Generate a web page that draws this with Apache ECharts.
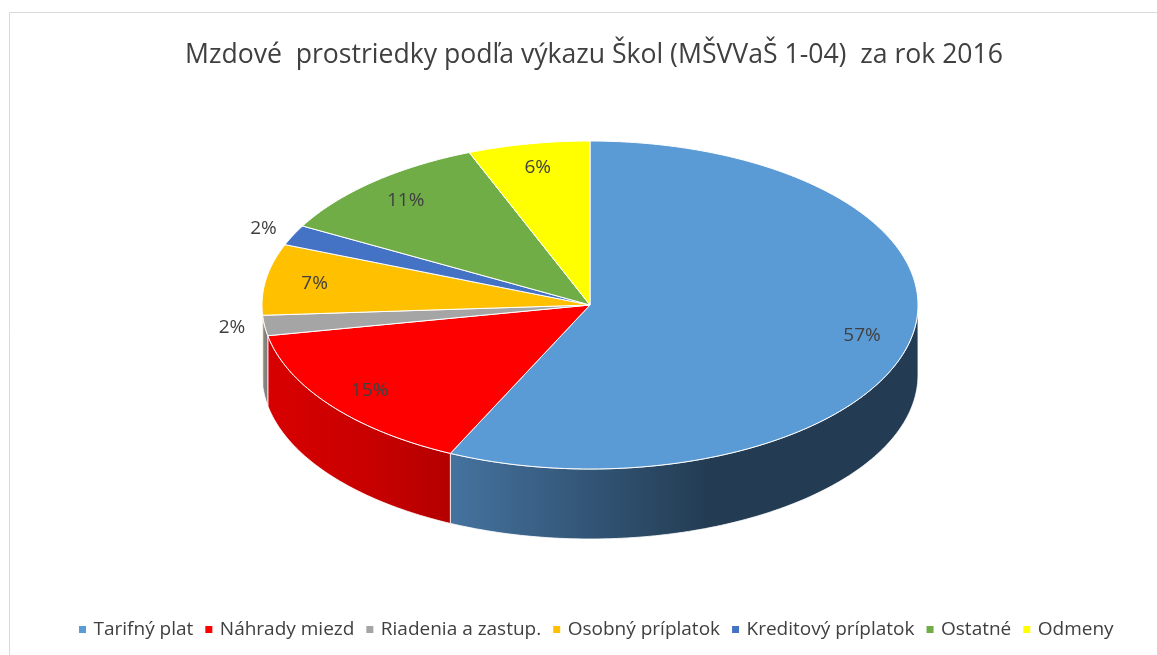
<!DOCTYPE html>
<html>
<head>
<meta charset="utf-8">
<script src="https://cdn.jsdelivr.net/npm/echarts@6/dist/echarts.min.js"></script>
<style>
  html, body { margin: 0; padding: 0; background: #fff; }
  #chart { width: 1157px; height: 655px; }
</style>
</head>
<body>
<div id="chart"></div>
<script>
// data
const categories = ["Tarifný plat", "Náhrady miezd", "Riadenia a zastup.", "Osobný príplatok", "Kreditový príplatok", "Ostatné", "Odmeny"];
const values = [57, 15, 2, 7, 2, 11, 6];

const colors = ["#5B9BD5", "#FF0000", "#A5A5A5", "#FFC000", "#4472C4", "#70AD47", "#FFFF00"];
// side (wall) gradient: [left, middle, right]
const sideColors = [
  ["#45739f", "#233c53", "#233c53"],
  ["#d80000", "#c80000", "#b40000"],
  ["#8c8c8c", "#828282", "#7a7a7a"],
  ["#c99700", "#b88a00", "#a98000"],
  ["#34599a", "#2f528c", "#2a4a80"],
  ["#558a35", "#4e8031", "#48752c"],
  ["#cccc00", "#bebe00", "#b0b000"]
];

const FONT = "'Open Sans', 'Noto Sans', sans-serif";
const TXT = "#404040";

// pie geometry (pixels)
const CX = 590, CY = 305, RX = 328, RY = 164, DEPTH = 70;

const total = values.reduce((a, b) => a + b, 0);
const starts = [];
let acc = 0;
values.forEach(v => { starts.push(acc); acc += v; });

function pt(t, dy) {
  return [CX + RX * Math.sin(t), CY - RY * Math.cos(t) + (dy || 0)];
}
function arc(t0, t1, dy) {
  const n = Math.max(2, Math.ceil((t1 - t0) / (Math.PI / 180)));
  const out = [];
  for (let k = 0; k <= n; k++) out.push(pt(t0 + (t1 - t0) * k / n, dy));
  return out;
}

function makeRender(i) {
  return function (params, api) {
    const v = api.value(0);
    const t0 = starts[i] / total * Math.PI * 2;
    const t1 = (starts[i] + v) / total * Math.PI * 2;
    const children = [];

    // outer wall, only the front half is seen
    const a = Math.max(t0, Math.PI / 2), b = Math.min(t1, Math.PI * 1.5);
    if (b > a) {
      const top = arc(a, b, 0);
      const bottom = arc(a, b, DEPTH).reverse();
      children.push({
        type: 'polygon',
        z2: 1,
        shape: { points: top.concat(bottom) },
        style: {
          fill: new echarts.graphic.LinearGradient(0, 0, 1, 0, [
            { offset: 0, color: sideColors[i][0] },
            { offset: 0.55, color: sideColors[i][1] },
            { offset: 1, color: sideColors[i][2] }
          ]),
          stroke: 'rgba(255,255,255,0.8)',
          lineWidth: 1
        }
      });
    }

    // top face
    children.push({
      type: 'polygon',
      z2: 5,
      shape: { points: [[CX, CY]].concat(arc(t0, t1, 0)) },
      style: { fill: colors[i], stroke: '#fff', lineWidth: 1 }
    });

    // label
    const mid = (t0 + t1) / 2;
    const f = v / total < 0.05 ? 1.1 : 0.85;
    children.push({
      type: 'text',
      z2: 10,
      x: CX + RX * f * Math.sin(mid),
      y: CY - RY * f * Math.cos(mid),
      style: {
        text: Math.round(v / total * 100) + '%',
        fontSize: 19,
        fontFamily: FONT,
        fill: TXT,
        align: 'center',
        verticalAlign: 'middle'
      }
    });

    return { type: 'group', children: children };
  };
}

const chart = echarts.init(document.getElementById('chart'));
chart.setOption({
  animation: false,
  title: {
    text: 'Mzdové  prostriedky podľa výkazu Škol (MŠVVaŠ 1-04)  za rok 2016',
    left: 180,
    top: 37,
    textStyle: { fontFamily: FONT, fontSize: 26.6, fontWeight: 'normal', color: TXT }
  },
  legend: {
    data: categories,
    bottom: 11,
    left: 74,
    icon: 'path://M0,0h7v7h-7z',
    itemWidth: 12,
    itemHeight: 7,
    itemGap: 12,
    textStyle: { fontFamily: FONT, fontSize: 19, color: TXT }
  },
  graphic: [{
    type: 'rect',
    shape: { x: 9.5, y: 12.5, width: 1200, height: 700 },
    style: { fill: 'none', stroke: '#d9d9d9', lineWidth: 1 },
    silent: true
  }],
  series: categories.map((name, i) => ({
    type: 'custom',
    name: name,
    coordinateSystem: 'none',
    color: colors[i],
    emphasis: { disabled: true },
    data: [values[i]],
    renderItem: makeRender(i)
  }))
});
</script>
</body>
</html>
